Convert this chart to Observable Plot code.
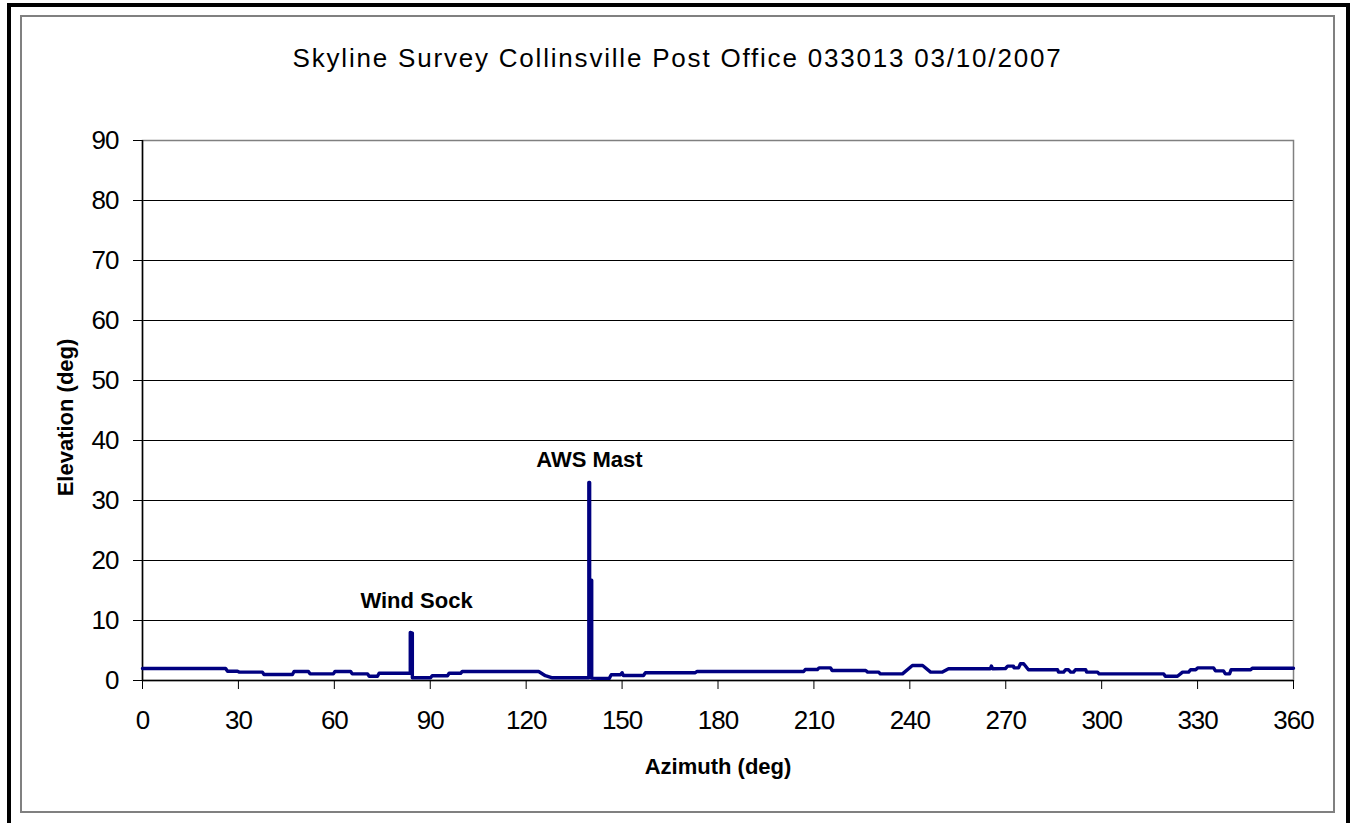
<!DOCTYPE html>
<html><head><meta charset="utf-8">
<script src="https://cdn.jsdelivr.net/npm/d3@7"></script>
<script src="https://cdn.jsdelivr.net/npm/@observablehq/plot@0.6"></script>
<style>
html,body{margin:0;padding:0;background:#fff;overflow:hidden}
#wrap{position:relative;width:1353px;height:823px;font-family:"Liberation Sans",Arial,sans-serif;overflow:hidden}
#outer{position:absolute;left:7px;top:3px;width:1343px;height:840px;box-sizing:border-box;border:4px solid #000}
#inner{position:absolute;left:20px;top:15px;width:1315px;height:798px;box-sizing:border-box;border:2px solid #808080}
#title{position:absolute;left:20px;width:1315px;top:45px;line-height:26px;text-align:center;font-size:26px;letter-spacing:1.8px;color:#000}
#chart{position:absolute;left:0;top:100px}
</style>
</head><body>
<div id="wrap">
  <div id="outer"></div>
  <div id="inner"></div>
  <div id="title">Skyline Survey Collinsville Post Office 033013 03/10/2007</div>
  <div id="chart"></div>
</div>
<script>
const titleText = "Skyline Survey Collinsville Post Office 033013 03/10/2007";
const xLabel = "Azimuth (deg)";
const yLabel = "Elevation (deg)";
const xTicks = [0,30,60,90,120,150,180,210,240,270,300,330,360];
const yTicks = [0,10,20,30,40,50,60,70,80,90];
const gridValues = [10,20,30,40,50,60,70,80];

const azimuth = [
  0,26.0,26.6,29.7,30.2,37.5,38.0,46.9,47.4,51.9,52.4,59.7,60.2,65.1,65.6,70.4,70.9,73.5,74.0,83.75,
  83.75,84.4,84.4,90.1,90.6,95.4,95.9,99.5,100.0,123.9,126.0,128.2,139.6,139.6,139.85,139.85,140.5,140.5,
  142.5,146.0,146.6,149.5,150.0,150.4,156.7,157.3,172.9,173.4,206.8,207.3,211.1,211.6,215.2,215.7,
  226.2,226.8,230.2,230.8,237.7,240.8,244.0,246.5,250.2,252.1,265.2,265.5,265.9,269.9,270.6,272.4,
  272.6,274.0,274.6,275.6,277.1,286.2,286.5,288.1,288.7,289.6,290.3,291.2,291.8,295.0,295.3,298.7,
  299.2,319.4,319.9,323.7,325.3,327.2,327.8,329.4,330.0,335.0,335.6,338.1,338.7,340.0,340.5,346.6,
  347.1,360
];
const elevation = [
  2.0,2.0,1.55,1.55,1.4,1.4,1.0,1.0,1.5,1.5,1.1,1.1,1.5,1.5,1.1,1.1,0.7,0.7,1.2,1.2,
  8.0,7.9,0.45,0.45,0.8,0.8,1.2,1.2,1.5,1.5,0.8,0.45,0.45,33,33,16.7,16.7,0.4,
  0.35,0.35,0.95,0.95,1.3,0.83,0.83,1.3,1.3,1.5,1.5,1.83,1.83,2.1,2.1,1.67,
  1.67,1.4,1.4,1.1,1.1,2.5,2.5,1.4,1.4,1.95,1.95,2.4,1.95,2.0,2.4,2.4,
  2.1,2.1,2.8,2.8,1.8,1.8,1.4,1.4,1.8,1.8,1.4,1.4,1.8,1.8,1.4,1.4,
  1.1,1.1,0.7,0.7,1.4,1.4,1.8,1.8,2.1,2.1,1.6,1.6,1.1,1.1,1.8,1.8,
  2.05,2.05
];

const noteText = ["Wind Sock", "AWS Mast"];
const noteAz = [85.7, 139.8];
const noteEl = [13.2, 36.7];

const data = azimuth.map((a, i) => ({az: a, el: elevation[i]}));
const notes = noteText.map((t, i) => ({text: t, az: noteAz[i], el: noteEl[i]}));

const chart = Plot.plot({
  width: 1353,
  height: 723,
  marginLeft: 142,
  marginRight: 60,
  marginTop: 40,
  marginBottom: 143,
  style: {fontFamily: "'Liberation Sans', Arial, sans-serif", fontSize: "26px", color: "#000", background: "transparent", overflow: "visible"},
  x: {domain: [0, 360], axis: null},
  y: {domain: [0, 90], axis: null},
  marks: [
    Plot.ruleY(gridValues, {stroke: "#000", strokeWidth: 1}),
    Plot.frame({stroke: "#808080", strokeWidth: 1.5}),
    Plot.ruleX([0], {stroke: "#000", strokeWidth: 1.5}),
    Plot.ruleY([0], {stroke: "#000", strokeWidth: 1.5}),
    Plot.axisY({ticks: yTicks, tickSize: 9, tickPadding: 15, label: null, fontSize: 26}),
    Plot.axisX({ticks: xTicks, tickSize: 9, tickPadding: 21, label: null, fontSize: 26}),
    Plot.line(data, {x: "az", y: "el", stroke: "#000080", strokeWidth: 3.4}),
    Plot.text(notes, {x: "az", y: "el", text: "text", fontWeight: "bold", fontSize: 22, fill: "#000", ariaLabel: "note"}),
    Plot.text([yLabel], {frameAnchor: "left", dx: -77, dy: 7, rotate: -90, textAnchor: "middle", lineAnchor: "middle", fontWeight: "bold", fontSize: 22, fill: "#000", ariaLabel: "axistitle"}),
    Plot.text([xLabel], {frameAnchor: "bottom", dy: 86, textAnchor: "middle", lineAnchor: "middle", fontWeight: "bold", fontSize: 22, fill: "#000", ariaLabel: "axistitle"})
  ]
});
document.getElementById("chart").appendChild(chart);
d3.select(chart).selectAll('g[aria-label="axistitle"] text').style("letter-spacing", "1.8px");
d3.select(chart).selectAll('g[aria-label="note"] text').style("letter-spacing", "1.2px");
d3.select(chart).selectAll('g[aria-label="y-axis tick label"] text, g[aria-label="x-axis tick label"] text').style("letter-spacing", "-1px");
</script>
</body></html>
